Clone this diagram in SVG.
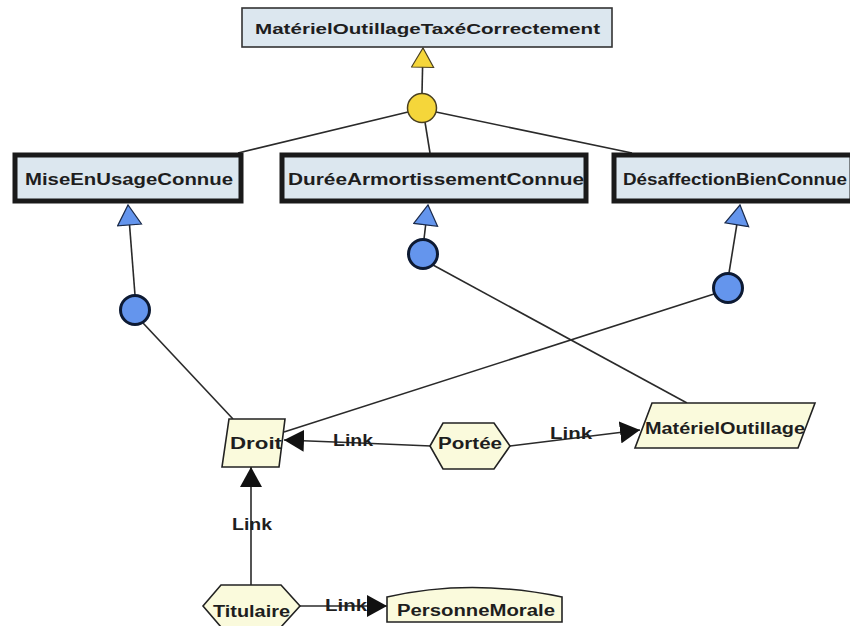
<svg xmlns="http://www.w3.org/2000/svg" width="850" height="626" viewBox="0 0 850 626">
<style>
text{font-family:"Liberation Sans",Arial,sans-serif;font-weight:bold;fill:#1e1e1e;}
.goal{fill:#dce7ef;stroke:#1a1a1a;stroke-width:5;}
.top{fill:#dce7ef;stroke:#333;stroke-width:1.6;}
.ent{fill:#fafadc;stroke:#222;stroke-width:1.6;}
.edge{stroke:#2a2a2a;stroke-width:1.6;fill:none;}
.bc{fill:#6495ed;stroke:#0d1a33;stroke-width:3;}
.yc{fill:#f5d63a;stroke:#4a4020;stroke-width:1.5;}
</style>
<defs>
<marker id="arr" viewBox="0 0 20 22" refX="20" refY="11" markerWidth="20" markerHeight="22" markerUnits="userSpaceOnUse" orient="auto">
<path d="M0,0 L20,11 L0,22 z" fill="#111"/>
</marker>
<marker id="btri" viewBox="-1 -1 22 26" refX="20" refY="12" markerWidth="22" markerHeight="26" markerUnits="userSpaceOnUse" orient="auto">
<path d="M0,0 L20,12 L0,24 z" fill="#6495ed" stroke="#1a2a4a" stroke-width="1.2"/>
</marker>
<marker id="ytri" viewBox="-1 -1 22 26" refX="20" refY="11.5" markerWidth="22" markerHeight="25" markerUnits="userSpaceOnUse" orient="auto">
<path d="M0,0 L20,11.5 L0,23 z" fill="#f5d63a" stroke="#4a4020" stroke-width="1.2"/>
</marker>
</defs>

<g id="connectors">
<line class="edge" x1="422" y1="93" x2="423" y2="48" marker-end="url(#ytri)"/>
<line class="edge" x1="408" y1="112" x2="238" y2="153"/>
<line class="edge" x1="425" y1="122" x2="430" y2="153"/>
<line class="edge" x1="436" y1="112" x2="632" y2="153"/>
<line class="edge" x1="135" y1="295" x2="128" y2="205" marker-end="url(#btri)"/>
<line class="edge" x1="424" y1="239" x2="428" y2="205" marker-end="url(#btri)"/>
<line class="edge" x1="729" y1="273" x2="740" y2="205" marker-end="url(#btri)"/>
<line class="edge" x1="143" y1="323" x2="233" y2="419"/>
<line class="edge" x1="714" y1="294" x2="284" y2="432"/>
<line class="edge" x1="433" y1="265" x2="687" y2="403"/>
<polyline class="edge" points="431,446 360,443 284,440" marker-end="url(#arr)"/>
<line class="edge" x1="510" y1="446" x2="640" y2="430" marker-end="url(#arr)"/>
<line class="edge" x1="251" y1="585" x2="251" y2="467" marker-end="url(#arr)"/>
<line class="edge" x1="300" y1="606" x2="387" y2="606" marker-end="url(#arr)"/>
<text x="333" y="446" font-size="16" textLength="40" lengthAdjust="spacingAndGlyphs">Link</text>
<text x="550" y="439" font-size="16" textLength="42" lengthAdjust="spacingAndGlyphs">Link</text>
<text x="232" y="530" font-size="16" textLength="40" lengthAdjust="spacingAndGlyphs">Link</text>
<text x="325" y="611" font-size="16" textLength="42" lengthAdjust="spacingAndGlyphs">Link</text>
</g>

<g id="MaterielOutillageTaxeCorrectement">
<rect class="top" x="242" y="8" width="370" height="39"/>
<text x="255" y="34" font-size="14.5" textLength="345" lengthAdjust="spacingAndGlyphs">MatérielOutillageTaxéCorrectement</text>
</g>
<g id="and-yellow">
<circle class="yc" cx="422" cy="108" r="14.5"/>
</g>

<g id="MiseEnUsageConnue">
<rect class="goal" x="15" y="155" width="226" height="46"/>
<text x="25" y="185" font-size="16" textLength="208" lengthAdjust="spacingAndGlyphs">MiseEnUsageConnue</text>
</g>
<g id="DureeArmortissementConnue">
<rect class="goal" x="282" y="155" width="304" height="46"/>
<text x="288" y="185" font-size="16" textLength="296" lengthAdjust="spacingAndGlyphs">DuréeArmortissementConnue</text>
</g>
<g id="DesaffectionBienConnue">
<rect class="goal" x="614" y="155" width="238" height="46"/>
<text x="623" y="185" font-size="16" textLength="224" lengthAdjust="spacingAndGlyphs">DésaffectionBienConnue</text>
</g>

<g id="or-mise"><circle class="bc" cx="135" cy="310" r="14.5"/></g>
<g id="or-duree"><circle class="bc" cx="423" cy="254" r="14.5"/></g>
<g id="or-desaff"><circle class="bc" cx="728" cy="288" r="14.5"/></g>

<g id="Droit">
<polygon class="ent" points="229,419 285,419 279,467 222,467"/>
<text x="230" y="449" font-size="16" textLength="52" lengthAdjust="spacingAndGlyphs">Droit</text>
</g>
<g id="Portee">
<polygon class="ent" points="430,446 443,423 494,423 510,446 494,469 443,469"/>
<text x="438" y="449" font-size="16" textLength="64" lengthAdjust="spacingAndGlyphs">Portée</text>
</g>
<g id="MaterielOutillage">
<polygon class="ent" points="652,403 815,403 798,448 635,448"/>
<text x="645" y="434" font-size="16" textLength="160" lengthAdjust="spacingAndGlyphs">MatérielOutillage</text>
</g>
<g id="Titulaire">
<polygon class="ent" points="203,606 221,585 281,585 300,606 281,627 221,627"/>
<text x="213" y="617" font-size="16" textLength="77" lengthAdjust="spacingAndGlyphs">Titulaire</text>
</g>
<g id="PersonneMorale">
<path class="ent" d="M387,597 Q470,578 562,597 L562,622 L387,622 Z"/>
<text x="397" y="616" font-size="16" textLength="158" lengthAdjust="spacingAndGlyphs">PersonneMorale</text>
</g>
</svg>
